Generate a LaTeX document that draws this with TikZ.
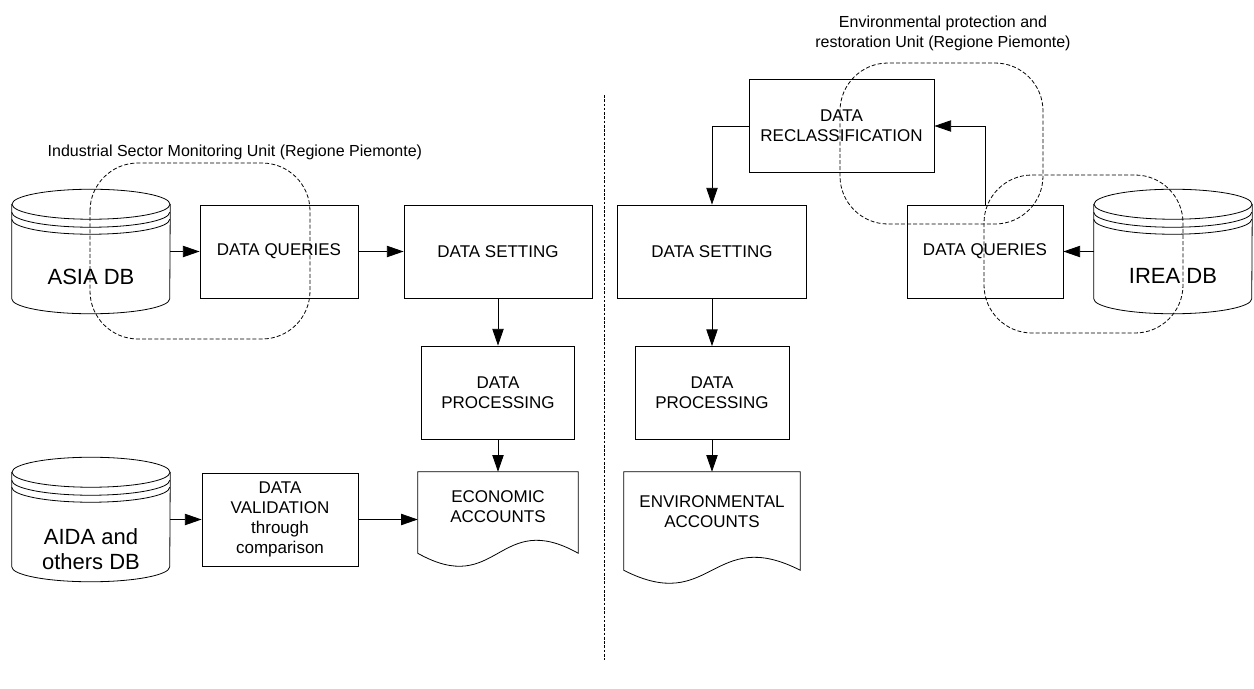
\documentclass[tikz,border=0pt]{standalone}
\usepackage{fontspec}
\setmainfont{Liberation Sans}
\usetikzlibrary{arrows.meta,calc}

\tikzset{
  procbox/.style={draw=black, line width=0.6pt, minimum width=#1, minimum height=69.75pt,
    align=center, inner sep=1pt, font=\fontsize{12.75}{15}\selectfont},
  docbox/.style={minimum width=#1, align=center, inner sep=1pt, font=\fontsize{12.75}{15}\selectfont},
  dbbox/.style={minimum width=118.5pt, minimum height=93pt, inner sep=0pt},
  dbtext/.style={align=center, font=\fontsize{16.5}{18.75}\selectfont},
  unitlabel/.style={align=center, font=\fontsize{12}{15}\selectfont},
  flow/.style={line width=0.6pt, -{Triangle[length=12.5pt,width=8.5pt]}},
  unitzone/.style={line width=0.6pt, dash pattern=on 3pt off 1.6pt, rounded corners=36pt},
}

\newcommand{\dbshape}[1]{%
  \draw[line width=0.6pt] ($(#1.north)+(0,15)$) ellipse[x radius=59.25pt, y radius=11.25pt];
  \draw[line width=0.6pt] ($(#1.north west)+(0,15)$) -- ($(#1.south west)+(0,-15)$)
    arc[start angle=180, end angle=360, x radius=59.25pt, y radius=11.25pt] -- ($(#1.north east)+(0,15)$);
  \draw[line width=0.6pt] ($(#1.north west)+(0,23)$) arc[start angle=180, end angle=360, x radius=59.25pt, y radius=11.25pt];
  \draw[line width=0.6pt] ($(#1.north west)+(0,30)$) arc[start angle=180, end angle=360, x radius=59.25pt, y radius=11.25pt];
}
\newcommand{\docoutline}[1]{%
  \draw[line width=0.6pt] (#1.south west) -- (#1.north west) -- (#1.north east) -- (#1.south east)
    .. controls ($(#1.south)+(0,-45)$) and ($(#1.south)+(0,45)$) .. (#1.south west) -- cycle;
}

\begin{document}
\begin{tikzpicture}[x=0.75pt,y=-0.75pt]
  \useasboundingbox (0,0) rectangle (1254,689);

  \node[unitlabel, anchor=west] (indunit) at (43,152) {Industrial Sector Monitoring Unit (Regione Piemonte)};
  \node[unitlabel] (envunit) at (943,33) {Environmental protection and\\restoration Unit (Regione Piemonte)};

  \node[dbbox] (asia) at (91,251.5) {};
  \node[dbtext] (asialbl) at (91,277) {ASIA DB};
  \node[dbbox] (aida) at (91,519.5) {};
  \node[dbtext] (aidalbl) at (91,549) {AIDA and\\others DB};
  \node[dbbox] (irea) at (1173,251.5) {};
  \node[dbtext] (irealbl) at (1173,276) {IREA DB};
  \dbshape{asia}
  \dbshape{aida}
  \dbshape{irea}

  \node[procbox=118.5pt] (dq1) at (279,251.5) {DATA QUERIES};
  \node[procbox=141pt] (ds1) at (498,251.5) {DATA SETTING};
  \node[procbox=114.75pt] (dp1) at (498,392.5) {DATA\\PROCESSING};
  \node[procbox=117pt] (dv) at (280,519.5) {DATA\\VALIDATION\\through\\comparison};
  \node[docbox=120pt, minimum height=60.75pt, text depth=9pt] (eco) at (498,512.5) {ECONOMIC\\ACCOUNTS};
  \docoutline{eco}

  \node[procbox=138.75pt] (recl) at (841.5,126) {DATA\\RECLASSIFICATION};
  \node[procbox=141.75pt] (ds2) at (712,251.5) {DATA SETTING};
  \node[procbox=117pt] (dq2) at (985,251.5) {DATA QUERIES};
  \node[procbox=115.5pt] (dp2) at (712,393) {DATA\\PROCESSING};
  \node[docbox=132pt, minimum height=73.5pt, text depth=13.5pt] (env) at (712,521) {ENVIRONMENTAL\\ACCOUNTS};
  \docoutline{env}

  \draw[flow] (asia.east) -- (dq1.west);
  \draw[flow] (dq1.east) -- (ds1.west);
  \draw[flow] (ds1.south) -- (dp1.north);
  \draw[flow] (dp1.south) -- (dp1.south |- eco.north);
  \draw[flow] (aida.east) -- (dv.west);
  \draw[flow] (dv.east) -- (dv.east -| eco.west);

  \draw[flow] (irea.west) -- (dq2.east);
  \draw[flow] (dq2.north) |- (recl.east);
  \draw[flow] (recl.west) -| (ds2.north);
  \draw[flow] (ds2.south) -- (dp2.north);
  \draw[flow] (dp2.south) -- (dp2.south |- env.north);

  \draw[line width=0.5pt, dash pattern=on 2pt off 1.2pt] (604,95) -- (604,660);

  \draw[unitzone] (90,163) rectangle (310,339);
  \draw[unitzone] (840,63) rectangle (1043,224);
  \draw[unitzone] (984,175) rectangle (1183,333);
\end{tikzpicture}
\end{document}
